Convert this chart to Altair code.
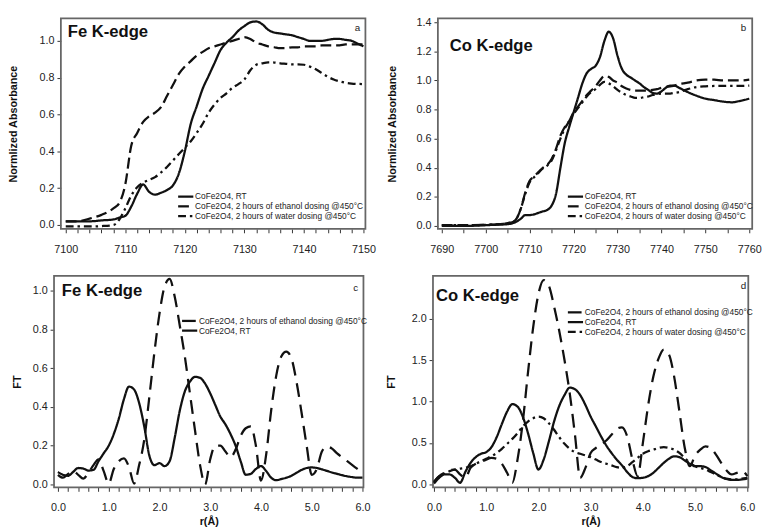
import altair as alt
import pandas as pd

FONT = "Liberation Sans"
RT = "CoFe2O4, RT"
ETH = "CoFe2O4, 2 hours of ethanol dosing @450°C"
WAT = "CoFe2O4, 2 hours of water dosing @450°C"

# ---------------- panel a : Fe K-edge XANES ----------------
FE_E = [7100, 7102, 7104, 7106, 7108, 7109, 7110, 7111, 7112, 7113, 7114, 7115, 7116, 7117,
        7118, 7119, 7120, 7121, 7122, 7123, 7124, 7125, 7126, 7127, 7128, 7129, 7130, 7131,
        7132, 7133, 7134, 7135, 7136, 7137, 7138, 7139, 7140, 7141, 7142, 7143, 7144, 7145,
        7146, 7147, 7148, 7149, 7150]
FE_RT = [0.02, 0.02, 0.02, 0.025, 0.03, 0.04, 0.05, 0.1, 0.17, 0.22, 0.18, 0.165, 0.175, 0.19,
         0.215, 0.28, 0.4, 0.55, 0.645, 0.74, 0.81, 0.88, 0.95, 0.99, 1.02, 1.055, 1.08, 1.1,
         1.105, 1.09, 1.06, 1.045, 1.04, 1.035, 1.03, 1.02, 1.01, 1.0, 1.0, 1.0, 1.005, 1.01,
         1.01, 1.005, 1.0, 0.985, 0.97]
FE_ETH = [0.02, 0.02, 0.035, 0.055, 0.09, 0.12, 0.22, 0.43, 0.5, 0.56, 0.59, 0.61, 0.64, 0.7,
          0.76, 0.82, 0.86, 0.89, 0.92, 0.94, 0.96, 0.97, 0.98, 0.99, 1.0, 1.01, 1.02, 1.01,
          0.99, 0.98, 0.97, 0.965, 0.96, 0.96, 0.965, 0.965, 0.97, 0.97, 0.97, 0.975, 0.975,
          0.975, 0.975, 0.98, 0.98, 0.98, 0.98]
FE_WAT = [-0.008, -0.008, -0.008, -0.006, 0.0, 0.03, 0.09, 0.16, 0.205, 0.23, 0.245, 0.26,
          0.285, 0.315, 0.35, 0.385, 0.42, 0.455, 0.5, 0.55, 0.61, 0.655, 0.69, 0.715, 0.745,
          0.765, 0.79, 0.84, 0.87, 0.878, 0.883, 0.882, 0.878, 0.875, 0.872, 0.872, 0.87, 0.86,
          0.845, 0.825, 0.805, 0.79, 0.78, 0.772, 0.768, 0.766, 0.765]

# ---------------- panel b : Co K-edge XANES ----------------
CO_E = [7690, 7695, 7700, 7702, 7704, 7705, 7706, 7707, 7708, 7709, 7710, 7711, 7712, 7713,
        7714, 7715, 7716, 7717, 7718, 7719, 7720, 7721, 7722, 7723, 7724, 7725, 7726, 7727,
        7728, 7729, 7730, 7731, 7732, 7733, 7734, 7735, 7736, 7737, 7738, 7739, 7740, 7741,
        7742, 7743, 7744, 7745, 7746, 7748, 7750, 7752, 7754, 7756, 7758, 7760]
CO_RT = [0.0, 0.0, 0.005, 0.008, 0.01, 0.012, 0.018, 0.03, 0.05, 0.075, 0.075, 0.08, 0.09, 0.1,
         0.11, 0.14, 0.22, 0.4, 0.57, 0.68, 0.78, 0.88, 0.98, 1.05, 1.08, 1.1, 1.16, 1.27,
         1.335, 1.29, 1.17, 1.08, 1.04, 1.02, 1.0, 0.98, 0.955, 0.935, 0.915, 0.91, 0.925,
         0.95, 0.965, 0.965, 0.95, 0.935, 0.92, 0.895, 0.875, 0.865, 0.855, 0.85, 0.86, 0.875]
CO_ETH = [0.005, 0.005, 0.008, 0.01, 0.015, 0.02, 0.025, 0.05, 0.12, 0.23, 0.31, 0.34, 0.37,
          0.4, 0.42, 0.46, 0.53, 0.62, 0.68, 0.72, 0.78, 0.82, 0.86, 0.9, 0.93, 0.96, 1.0,
          1.03, 1.025, 1.0, 0.985, 0.96, 0.945, 0.935, 0.93, 0.93, 0.93, 0.93, 0.935, 0.94,
          0.95, 0.955, 0.96, 0.965, 0.975, 0.98, 0.985, 1.0, 1.005, 1.005, 1.0, 1.0, 1.0, 1.005]
CO_WAT = [0.005, 0.005, 0.008, 0.01, 0.015, 0.02, 0.025, 0.05, 0.12, 0.22, 0.3, 0.335, 0.365,
          0.395, 0.415, 0.45, 0.52, 0.6, 0.67, 0.72, 0.77, 0.81, 0.85, 0.89, 0.92, 0.94, 0.97,
          0.99, 0.98, 0.96, 0.935, 0.915, 0.9, 0.89, 0.88, 0.88, 0.885, 0.89, 0.9, 0.905, 0.91,
          0.91, 0.91, 0.915, 0.92, 0.93, 0.94, 0.955, 0.96, 0.962, 0.962, 0.963, 0.963, 0.965]

# ---------------- panels c, d : Fourier transforms ----------------
R = [0.0, 0.1, 0.2, 0.3, 0.4, 0.5, 0.6, 0.7, 0.8, 0.9, 1.0, 1.1, 1.2, 1.3, 1.4, 1.5, 1.6, 1.7,
     1.8, 1.9, 2.0, 2.1, 2.2, 2.3, 2.4, 2.5, 2.6, 2.7, 2.8, 2.9, 3.0, 3.1, 3.2, 3.3, 3.4, 3.5,
     3.6, 3.7, 3.8, 3.9, 4.0, 4.1, 4.2, 4.3, 4.4, 4.5, 4.6, 4.7, 4.8, 4.9, 5.0, 5.1, 5.2, 5.3,
     5.4, 5.5, 5.6, 5.7, 5.8, 5.9, 6.0]
FT_FE_ETH = [0.05, 0.035, 0.055, 0.07, 0.05, 0.03, 0.06, 0.1, 0.13, 0.07, 0.005, 0.08, 0.12,
             0.135, 0.09, 0.005, 0.1, 0.23, 0.45, 0.68, 0.88, 1.02, 1.06, 0.97, 0.82, 0.66,
             0.47, 0.28, 0.1, 0.0, 0.13, 0.2, 0.2, 0.17, 0.14, 0.18, 0.25, 0.29, 0.3, 0.2,
             0.02, 0.15, 0.38, 0.56, 0.66, 0.685, 0.65, 0.53, 0.37, 0.2, 0.05, 0.08, 0.17,
             0.195, 0.185, 0.16, 0.14, 0.12, 0.1, 0.08, 0.06]
FT_FE_RT = [0.064, 0.05, 0.045, 0.065, 0.085, 0.082, 0.072, 0.075, 0.12, 0.16, 0.2, 0.26, 0.34,
            0.44, 0.505, 0.49, 0.42, 0.3, 0.15, 0.1, 0.11, 0.095, 0.12, 0.24, 0.38, 0.48, 0.53,
            0.555, 0.55, 0.52, 0.47, 0.41, 0.35, 0.31, 0.26, 0.2, 0.12, 0.05, 0.055, 0.08,
            0.095, 0.07, 0.035, 0.022, 0.028, 0.035, 0.045, 0.06, 0.075, 0.085, 0.088, 0.085,
            0.078, 0.07, 0.062, 0.055, 0.048, 0.042, 0.038, 0.035, 0.035]
FT_CO_ETH = [0.03, 0.1, 0.14, 0.17, 0.18, 0.12, 0.08, 0.2, 0.25, 0.27, 0.3, 0.32, 0.31, 0.25,
             0.14, 0.02, 0.3, 0.75, 1.35, 1.9, 2.3, 2.47, 2.4, 2.15, 1.85, 1.5, 1.1, 0.6, 0.08,
             0.2, 0.38, 0.44, 0.48, 0.53, 0.6, 0.67, 0.69, 0.58, 0.3, 0.1, 0.5, 0.95, 1.3,
             1.52, 1.63, 1.57, 1.3, 0.88, 0.45, 0.22, 0.35, 0.42, 0.46, 0.44, 0.36, 0.26, 0.17,
             0.12, 0.14, 0.16, 0.1]
FT_CO_RT = [0.01, 0.08, 0.12, 0.12, 0.08, 0.02, 0.15, 0.26, 0.33, 0.37, 0.39, 0.45, 0.57, 0.73,
            0.88, 0.97, 0.94, 0.82, 0.62, 0.38, 0.18, 0.3, 0.52, 0.76, 0.95, 1.08, 1.17, 1.15,
            1.08, 0.96, 0.82, 0.7, 0.58, 0.47, 0.38, 0.3, 0.23, 0.15, 0.09, 0.075, 0.08, 0.1,
            0.14, 0.2, 0.26, 0.31, 0.34, 0.33, 0.29, 0.25, 0.22, 0.22, 0.21, 0.17, 0.13, 0.09,
            0.065, 0.055, 0.055, 0.06, 0.07]
FT_CO_WAT = [0.03, 0.1, 0.13, 0.16, 0.18, 0.19, 0.2, 0.22, 0.25, 0.28, 0.31, 0.34, 0.38, 0.43,
             0.49, 0.55, 0.62, 0.7, 0.76, 0.8, 0.82, 0.8, 0.74, 0.66, 0.57, 0.49, 0.43, 0.39,
             0.37, 0.35, 0.33, 0.3, 0.27, 0.25, 0.23, 0.21, 0.2, 0.22, 0.27, 0.32, 0.37, 0.4,
             0.42, 0.44, 0.45, 0.44, 0.42, 0.38, 0.32, 0.26, 0.22, 0.2, 0.18, 0.15, 0.12, 0.09,
             0.07, 0.06, 0.06, 0.07, 0.08]

# tick lists
X_TICKS_A = list(range(7100, 7151, 2))
X_TICKS_B = list(range(7690, 7761, 5))
X_TICKS_R = [round(i * 0.2, 1) for i in range(31)]
Y_TICKS_A = [0.0, 0.2, 0.4, 0.6, 0.8, 1.0]
Y_TICKS_B = [0.0, 0.2, 0.4, 0.6, 0.8, 1.0, 1.2, 1.4]
Y_TICKS_C = [0.0, 0.2, 0.4, 0.6, 0.8, 1.0]
Y_TICKS_D = [0.0, 0.5, 1.0, 1.5, 2.0]

SOLID = [1, 0]
DASH_SHORT = [11, 5]
DASH_LONG = [14, 8]
DASHDOT = [8, 4, 2.5, 4]


def frame(series):
    rows = []
    for name, (x, y) in series.items():
        for xi, yi in zip(x, y):
            rows.append({"x": xi, "y": yi, "series": name})
    return pd.DataFrame(rows)


def panel(df, order, dashes, xdom, ydom, xticks, xlabel_expr, xfmt, yticks, yfmt,
          w, h, ytitle, ytitle_pad, xtitle, name, name_xy, letter, letter_xy, leg_xy,
          inset=0):
    box = alt.Chart(pd.DataFrame({"k": [0]})).mark_rect(
        fillOpacity=0, stroke="#666", strokeWidth=1.8).encode(
        x=alt.value(inset), x2=alt.value(w), y=alt.value(0), y2=alt.value(h))
    lines = alt.Chart(df).mark_line(strokeWidth=2.3, color="#111", clip=True,
                                    interpolate="monotone").encode(
        x=alt.X("x:Q", scale=alt.Scale(domain=xdom, nice=False, zero=False),
                axis=alt.Axis(values=xticks, format=xfmt, labelExpr=xlabel_expr,
                              title=xtitle)),
        y=alt.Y("y:Q", scale=alt.Scale(domain=ydom, nice=False, zero=False),
                axis=alt.Axis(values=yticks, format=yfmt, title=ytitle,
                              titlePadding=ytitle_pad, offset=-inset)),
        strokeDash=alt.StrokeDash(
            "series:N", sort=order,
            scale=alt.Scale(domain=order, range=dashes),
            legend=alt.Legend(orient="none", legendX=leg_xy[0], legendY=leg_xy[1],
                              title=None, symbolType="M-3.1,0H3.1", symbolSize=25,
                              symbolStrokeWidth=2.3, symbolStrokeColor="#111",
                              labelFont=FONT, labelFontSize=8.5, labelColor="#222",
                              labelLimit=400, labelOffset=5.25, rowPadding=0, padding=0)),
    )
    name_t = alt.Chart(pd.DataFrame({"t": [name]})).mark_text(
        font=FONT, fontSize=17, fontWeight="bold", align="left", baseline="alphabetic",
        color="#111").encode(text="t:N", x=alt.value(name_xy[0]), y=alt.value(name_xy[1]))
    letter_t = alt.Chart(pd.DataFrame({"t": [letter]})).mark_text(
        font=FONT, fontSize=10, align="center", baseline="alphabetic",
        color="#222").encode(text="t:N", x=alt.value(letter_xy[0]), y=alt.value(letter_xy[1]))
    return alt.layer(box, lines, name_t, letter_t).properties(width=w, height=h)


MAJOR10 = "datum.value % 10 == 0 ? datum.label : ''"
MAJOR1 = "abs(datum.value - round(datum.value)) < 0.001 ? datum.label : ''"

pa = panel(frame({RT: (FE_E, FE_RT), ETH: (FE_E, FE_ETH), WAT: (FE_E, FE_WAT)}),
           [RT, ETH, WAT], [SOLID, DASH_SHORT, DASHDOT],
           [7098.03, 7150.33], [-0.021, 1.122], X_TICKS_A, MAJOR10, "d",
           Y_TICKS_A, ".1f", 318, 215, "Normlized Absorbance", 20.7, None,
           "Fe K-edge", (14, 19), "a", (310, 13), (130.25, 177.75), inset=7)

pb = panel(frame({RT: (CO_E, CO_RT), ETH: (CO_E, CO_ETH), WAT: (CO_E, CO_WAT)}),
           [RT, ETH, WAT], [SOLID, DASH_SHORT, DASHDOT],
           [7687.99, 7760.67], [-0.02, 1.427], X_TICKS_B, MAJOR10, "d",
           Y_TICKS_B, ".1f", 326, 215, "Normlized Absorbance", 19.2, None,
           "Co K-edge", (17, 33), "b", (317, 13), (141.25, 177.75), inset=5)

pc = panel(frame({ETH: (R, FT_FE_ETH), RT: (R, FT_FE_RT)}),
           [ETH, RT], [DASH_LONG, SOLID],
           [-0.077, 6.019], [-0.015, 1.076], X_TICKS_R, MAJOR1, ".1f",
           Y_TICKS_C, ".1f", 316, 216, "FT", 10.2, "r(Å)",
           "Fe K-edge", (8, 21), "c", (308, 15), (134.25, 41.75))

pd_ = panel(frame({ETH: (R, FT_CO_ETH), RT: (R, FT_CO_RT), WAT: (R, FT_CO_WAT)}),
            [ETH, RT, WAT], [DASH_LONG, SOLID, DASHDOT],
            [-0.019, 6.019], [-0.036, 2.52], X_TICKS_R, MAJOR1, ".1f",
            Y_TICKS_D, ".1f", 322, 216, "FT", 15.2, "r(Å)",
            "Co K-edge", (3, 26), "d", (317, 13), (141.25, 33))

IND = dict(x="independent", y="independent", strokeDash="independent")

chart = alt.concat(pa, pb, pc, pd_, columns=2,
                   spacing={"row": 21, "column": 9}).resolve_scale(**IND).resolve_legend(
    strokeDash="independent").properties(
    padding={"left": 0, "top": 3, "right": 0, "bottom": 0}, background="white"
).configure_view(strokeWidth=0).configure_axis(
    domain=False, grid=False, labelFont=FONT, labelFontSize=11, labelColor="#222",
    tickColor="#333", tickSize=4, tickWidth=1, labelPadding=3, titleFont=FONT,
    titleFontSize=11, titleFontWeight="bold", titleColor="#111", labelFlush=False,
    labelOverlap=False).configure_axisX(labelPadding=11, titlePadding=3)

chart.save("out.html", embed_options={"renderer": "svg", "actions": False})
